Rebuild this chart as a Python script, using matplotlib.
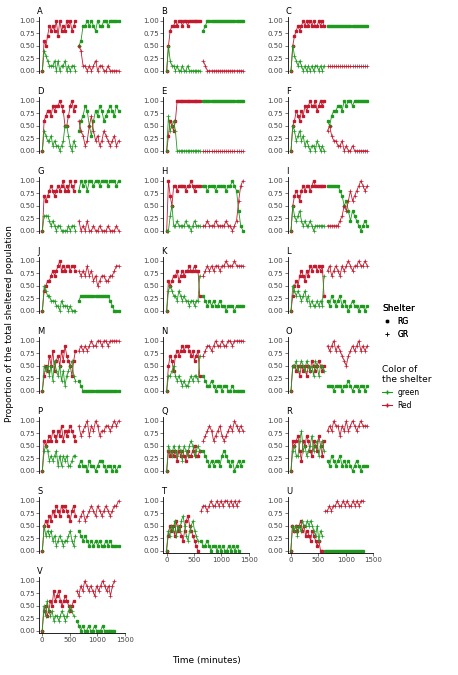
import matplotlib
matplotlib.use("Agg")
import matplotlib.pyplot as plt
from matplotlib.lines import Line2D

t1 = [0,30,60,90,120,150,180,210,240,270,300,330,360,390,420,450,480,510,540,570]
t2 = [630,666,702,738,774,810,846,882,918,954,990,1026,1062,1098,1134,1170,1206,1242,1278,1314]

panels = ["A","B","C","D","E","F","G","H","I","J","K","L","M","N","O","P","Q","R","S","T","U","V"]

r1 = {
"A":[0,.6,.5,.7,.9,.8,.9,.8,1,.7,1,.8,.9,.8,1,.9,1,.8,.9,1],
"B":[0,.5,.8,.9,.9,1,.9,1,1,.9,1,1,.9,1,1,1,1,1,1,1],
"C":[0,.5,.7,.8,.9,.8,.9,1,.9,1,.9,1,.9,1,.9,.9,1,.9,1,.9],
"D":[0,.6,.7,.8,.8,.7,.9,.8,.9,.9,1,.9,.8,.5,.5,.7,.9,1,.8,.9],
"E":[0,.3,.6,.5,.4,.6,1,1,1,1,1,1,1,1,1,1,1,1,1,1],
"F":[0,.5,.6,.8,.7,.6,.8,.7,.9,.8,.9,1,.9,.9,1,.8,.9,1,.9,1],
"G":[0,.7,.6,.7,.8,.9,.8,.7,.8,.9,.8,.9,1,.8,.9,.8,1,.9,.8,1],
"H":[0,1,.7,.5,.9,.9,.8,.9,.9,.9,.9,.8,.9,.9,1,.9,.8,.9,.9,.9],
"I":[0,.5,.7,.8,.7,.6,.8,.9,.8,.9,.9,.8,.9,1,.9,.9,.9,.9,.9,.9],
"J":[0,.4,.5,.6,.6,.7,.8,.7,.8,.9,1,.8,.9,.8,.9,.9,.8,.9,.9,.8],
"K":[0,.6,.5,.6,.7,.7,.8,.6,.7,.8,.7,.8,.8,.9,.8,.8,.9,.8,.8,.3],
"L":[0,.3,.5,.6,.5,.7,.8,.7,.6,.8,.7,.9,.8,.9,.9,.8,.9,.8,.9,.3],
"M":[0,.3,.5,.4,.7,.5,.8,.4,.6,.7,.5,.8,.6,.9,.7,.6,.5,.3,.6,.8],
"N":[0,.5,.7,.6,.4,.7,.8,.7,.8,.9,.8,.9,.9,.8,.7,.8,.6,.7,.8,.3],
"O":[0,.5,.5,.4,.5,.3,.5,.4,.5,.3,.5,.4,.6,.5,.4,.5,.6,.5,.4,.5],
"P":[0,.6,.5,.6,.7,.6,.8,.7,.6,.8,.7,.9,.6,.8,.7,.8,.9,.8,.7,.6],
"Q":[0,.4,.3,.4,.3,.4,.2,.4,.3,.4,.3,.2,.4,.3,.3,.4,.5,.3,.3,.4],
"R":[0,.6,.5,.6,.7,.4,.2,.6,.5,.7,.6,.4,.3,.6,.5,.4,.7,.5,.3,.6],
"S":[0,.5,.6,.5,.7,.6,.8,.7,.9,.8,.7,.9,.8,.9,.8,.7,.6,.8,.9,.7],
"T":[0,.3,.5,.4,.5,.3,.6,.4,.5,.3,.2,.4,.6,.7,.5,.4,.3,.2,.1,0],
"U":[0,.5,.4,.5,.4,.5,.6,.4,.5,.3,.4,.3,.2,.4,.3,.2,.1,.2,0,0],
"V":[0,.4,.5,.3,.4,.6,.5,.8,.6,.7,.8,.6,.5,.6,.7,.6,.5,.4,.5,.6],
}
g1 = {
"A":[0,.4,.3,.2,.1,.1,.1,.2,0,.2,0,.1,.1,.2,0,.1,0,.1,.1,0],
"B":[0,.5,.2,.1,.1,0,.1,0,0,.1,0,0,.1,0,0,0,0,0,0,0],
"C":[0,.5,.3,.2,.1,.2,.1,0,.1,0,.1,0,.1,0,.1,.1,0,.1,0,.1],
"D":[0,.4,.3,.2,.2,.3,.1,.2,.1,.1,0,.1,.2,.5,.5,.3,.1,0,.2,.1],
"E":[0,.7,.4,.5,.6,.4,0,0,0,0,0,0,0,0,0,0,0,0,0,0],
"F":[0,.5,.4,.2,.3,.4,.2,.3,.1,.2,.1,0,.1,.1,0,.2,.1,0,.1,0],
"G":[0,.3,.3,.3,.2,.1,.2,.1,0,.1,.1,0,0,0,0,.1,0,.1,.1,0],
"H":[0,0,.3,.5,.1,.1,.2,.1,.1,.1,.1,.2,.1,.1,0,.1,.2,.1,.1,.1],
"I":[0,.5,.3,.2,.3,.4,.2,.1,.2,.1,.1,.2,.1,0,.1,.1,.1,.1,.1,.1],
"J":[0,.5,.4,.3,.3,.2,.2,.2,.1,.1,0,.2,.1,.1,.1,0,.1,0,0,0],
"K":[0,.4,.5,.4,.3,.3,.2,.4,.3,.2,.3,.2,.2,.1,.2,.2,.1,.2,.2,.7],
"L":[0,.5,.4,.3,.4,.3,.2,.3,.4,.2,.3,.1,.2,.1,.1,.2,.1,.2,.1,.7],
"M":[0,.5,.4,.5,.3,.5,.2,.6,.4,.3,.5,.2,.4,.1,.3,.4,.5,.6,.3,.2],
"N":[0,.3,.3,.4,.5,.3,.2,.3,.2,.1,.2,.1,.1,.2,.3,.2,.3,.3,.2,.7],
"O":[0,.5,.5,.6,.4,.5,.6,.5,.4,.6,.5,.4,.5,.3,.6,.5,.3,.5,.5,.4],
"P":[0,.4,.5,.4,.2,.3,.2,.3,.4,.1,.3,.1,.3,.2,.3,.1,.1,.2,.3,.3],
"Q":[0,.5,.4,.3,.5,.4,.3,.5,.4,.2,.5,.4,.3,.5,.6,.5,.3,.4,.5,.4],
"R":[0,.4,.5,.3,.3,.6,.8,.4,.5,.3,.4,.5,.7,.4,.5,.6,.3,.5,.6,.4],
"S":[0,.5,.3,.4,.3,.4,.2,.3,.1,.2,.3,.2,.1,.2,.2,.3,.4,.2,.1,.3],
"T":[0,.4,.3,.5,.4,.6,.3,.5,.4,.6,.7,.5,.3,.2,.4,.5,.6,.4,.3,.2],
"U":[0,.5,.4,.5,.3,.5,.4,.6,.5,.5,.6,.5,.6,.5,.4,.3,.5,.2,.4,.3],
"V":[0,.5,.3,.6,.4,.3,.4,.2,.3,.3,.2,.3,.4,.3,.2,.3,.4,.5,.4,.3],
}
g2 = {
"A":[.5,.6,.9,.9,1,.9,1,.9,.8,1,.9,.9,1,1,.9,1,1,1,1,1],
"B":[.8,.9,1,1,1,1,1,1,1,1,1,1,1,1,1,1,1,1,1,1],
"C":[.9,.9,.9,.9,.9,.9,.9,.9,.9,.9,.9,.9,.9,.9,.9,.9,.9,.9,.9,.9],
"D":[.4,.6,.7,.9,.8,.5,.3,.6,.8,.7,.9,.8,.6,.7,.8,.9,.8,.7,.9,.8],
"E":[1,1,1,1,1,1,1,1,1,1,1,1,1,1,1,1,1,1,1,1],
"F":[.6,.5,.7,.8,.8,.9,.9,.8,1,.9,1,1,.9,1,1,1,1,1,1,1],
"G":[.8,1,.9,1,.8,1,1,.9,1,1,.9,1,1,1,.9,1,1,1,.9,1],
"H":[.9,.9,.8,.9,.9,.9,.8,.9,.9,.9,.9,.8,.9,.9,1,.9,.8,.4,.1,0],
"I":[.9,.9,.9,.9,.9,.9,.8,.7,.5,.6,.4,.2,.4,.3,.2,.1,0,.1,.2,.1],
"J":[.2,.3,.3,.3,.3,.3,.3,.3,.3,.3,.3,.3,.3,.3,.3,.2,.1,0,0,0],
"K":[.3,.2,.1,.2,.1,.2,.1,.1,.2,.1,.1,0,.1,.1,.1,0,.1,.1,.1,.1],
"L":[.2,.1,.3,.2,.1,.2,.3,.1,.2,.1,0,.1,.2,.1,.1,0,.1,.1,0,.1],
"M":[.2,.1,0,0,0,0,0,0,0,0,0,0,0,0,0,0,0,0,0,0],
"N":[.3,.2,.1,.1,.2,.1,0,.1,.1,0,.1,.1,0,0,.1,0,0,0,0,0],
"O":[.1,.1,.1,0,.1,.1,.1,0,.1,.1,.2,.1,0,.1,.1,0,.1,.1,0,.1],
"P":[.1,.2,.1,.1,0,.2,.1,.1,0,.1,.2,.2,.1,0,.1,.1,0,.1,0,.1],
"Q":[.4,.3,.2,.1,.2,.1,.2,.2,.1,.3,.4,.3,.2,.1,.2,0,.1,.2,.1,.2],
"R":[.2,.1,.3,.2,.1,.2,.3,.1,.2,.1,.2,.1,0,.1,.2,.1,0,.1,.1,.1],
"S":[.4,.3,.2,.3,.2,.1,.2,.1,.2,.1,.2,.1,.1,.2,.1,.2,.1,.1,.1,.1],
"T":[.2,.1,.1,.2,.1,0,.1,.1,0,.1,0,.1,0,0,.1,0,.1,0,.1,0],
"U":[0,0,0,0,0,0,0,0,0,0,0,0,0,0,0,0,0,0,0,0],
"V":[.2,.1,0,.1,0,0,.1,0,0,.1,0,0,0,.1,0,0,0,0,0,0],
}
r2 = {
"A":[.5,.4,.1,.1,0,.1,0,.1,.2,0,.1,.1,0,0,.1,0,0,0,0,0],
"B":[.2,.1,0,0,0,0,0,0,0,0,0,0,0,0,0,0,0,0,0,0],
"C":[.1,.1,.1,.1,.1,.1,.1,.1,.1,.1,.1,.1,.1,.1,.1,.1,.1,.1,.1,.1],
"D":[.6,.4,.3,.1,.2,.5,.7,.4,.2,.3,.1,.2,.4,.3,.2,.1,.2,.3,.1,.2],
"E":[0,0,0,0,0,0,0,0,0,0,0,0,0,0,0,0,0,0,0,0],
"F":[.4,.5,.3,.2,.2,.1,.1,.2,0,.1,0,0,.1,0,0,0,0,0,0,0],
"G":[.2,0,.1,0,.2,0,0,.1,0,0,.1,0,0,0,.1,0,0,0,.1,0],
"H":[.1,.1,.2,.1,.1,.1,.2,.1,.1,.1,.1,.2,.1,.1,0,.1,.2,.6,.9,1],
"I":[.1,.1,.1,.1,.1,.1,.2,.3,.5,.4,.6,.8,.6,.7,.8,.9,1,.9,.8,.9],
"J":[.8,.7,.8,.7,.9,.7,.8,.6,.7,.5,.6,.7,.7,.6,.6,.7,.7,.8,.9,.9],
"K":[.7,.8,.9,.8,.9,.8,.9,.9,.8,.9,.9,1,.9,.9,.9,1,.9,.9,.9,.9],
"L":[.8,.9,.7,.8,.9,.8,.7,.9,.8,.9,1,.9,.8,.9,.9,1,.9,.9,1,.9],
"M":[.8,.9,.8,.9,.8,.9,1,.9,.9,1,1,.9,1,1,.9,1,1,1,1,1],
"N":[.7,.8,.9,.9,.8,.9,1,.9,.9,1,.9,.9,1,1,.9,1,1,1,1,1],
"O":[.9,.8,.9,1,.8,.9,.8,.7,.6,.5,.7,.8,.9,.8,.9,1,.8,.9,.8,.9],
"P":[.9,.7,.8,.9,1,.7,.9,.8,1,.9,.7,.8,.8,.9,.9,.8,.9,1,.9,1],
"Q":[.6,.7,.8,.9,.8,.6,.7,.8,.9,.7,.6,.7,.8,.9,.8,1,.9,.8,.9,.8],
"R":[.8,.9,.8,1,.9,.9,.7,.9,.8,1,.8,.9,1,.9,.8,.9,1,.9,.9,.9],
"S":[.6,.7,.8,.6,.7,.8,.9,.8,.7,.9,.8,.7,.8,.9,.8,.7,.8,.9,.9,1],
"T":[.8,.9,.9,.8,.9,1,.9,.9,1,.9,1,.9,1,1,.9,1,.9,1,.9,1],
"U":[.8,.8,.9,.8,.9,.9,1,.9,.9,1,.9,1,.9,.9,1,.9,1,.9,1,1],
"V":[.8,.7,.9,.8,1,.9,.8,.9,.8,.7,.9,.8,.9,1,.9,.8,.9,.7,.9,1],
}

GREEN = "#1f9a1f"
RED = "#c41a2e"

fig = plt.figure(figsize=(4.58, 6.75), dpi=100)
gs = fig.add_gridspec(8, 3, left=0.085, right=0.815, top=0.975, bottom=0.062,
                      hspace=0.42, wspace=0.45)
bottom_panels = {"T", "U", "V"}
for i, p in enumerate(panels):
    ax = fig.add_subplot(gs[i // 3, i % 3])
    kw = dict(lw=0.6, ms=1.6)
    ax.plot(t1, r1[p], color=RED, marker="s", **kw)
    ax.plot(t1, g1[p], color=GREEN, marker="+", mew=0.5, lw=0.6, ms=2.8)
    ax.plot(t2, g2[p], color=GREEN, marker="s", **kw)
    ax.plot(t2, r2[p], color=RED, marker="+", mew=0.5, lw=0.6, ms=2.8)
    ax.set_xlim(-60, 1420)
    ax.set_ylim(-0.05, 1.08)
    ax.set_yticks([0, .25, .5, .75, 1])
    ax.set_yticklabels(["0.00", "0.25", "0.50", "0.75", "1.00"])
    for s in ["top", "right"]:
        ax.spines[s].set_visible(False)
    ax.spines["left"].set_linewidth(0.6)
    ax.tick_params(labelsize=5, length=2, width=0.5, pad=1, colors="#444444")
    if p in bottom_panels:
        ax.set_xticks([0, 500, 1000, 1500])
        ax.spines["bottom"].set_linewidth(0.6)
    else:
        ax.set_xticks([])
        ax.spines["bottom"].set_visible(False)
    ax.set_title(p, loc="left", fontsize=6, pad=2, x=-0.02)

fig.text(0.02, 0.52, "Proportion of the total sheltered population", rotation=90,
         va="center", ha="center", fontsize=6.5)
fig.text(0.45, 0.018, "Time (minutes)", ha="center", fontsize=6.5)

h1 = [Line2D([], [], color="black", marker="s", ls="none", ms=2),
      Line2D([], [], color="black", marker="+", ls="none", ms=3.5, mew=0.5)]
leg1 = fig.legend(h1, ["RG", "GR"], title="Shelter", loc="upper left",
                  bbox_to_anchor=(0.82, 0.56), frameon=False, fontsize=5.5,
                  title_fontsize=6.5, handlelength=1.2)
leg1._legend_box.align = "left"
fig.add_artist(leg1)
h2 = [Line2D([], [], color=GREEN, marker="+", lw=0.8, ms=3),
      Line2D([], [], color=RED, marker="+", lw=0.8, ms=3)]
leg2 = fig.legend(h2, ["green", "Red"], title="Color of\nthe shelter", loc="upper left",
                  bbox_to_anchor=(0.82, 0.47), frameon=False, fontsize=5.5,
                  title_fontsize=6.5, handlelength=1.2)
leg2._legend_box.align = "left"

fig.savefig("out.png", dpi=100)
